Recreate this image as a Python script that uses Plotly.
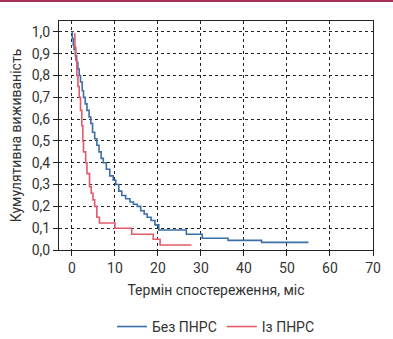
import plotly.graph_objects as go

# Без ПНРС (blue) — Kaplan–Meier step points (time, survival)
blue_t = [0.0, 0.1, 0.3, 0.5, 0.8, 1.1, 1.4, 1.7, 2.0, 2.4, 2.7, 3.1, 3.5, 4.0, 4.4, 4.8,
          5.3, 5.8, 6.3, 6.8, 7.3, 8.0, 8.8, 9.6, 10.2, 10.9, 11.6, 12.5, 13.5, 14.3, 15.2,
          16.0, 16.8, 17.5, 18.4, 19.3, 20.2, 26.6, 30.3, 36.3, 44.1, 55.0]
blue_s = [1.0, 0.97, 0.94, 0.92, 0.89, 0.86, 0.83, 0.80, 0.77, 0.73, 0.70, 0.67, 0.64, 0.61, 0.58, 0.54,
          0.51, 0.48, 0.45, 0.42, 0.40, 0.37, 0.34, 0.32, 0.30, 0.27, 0.25, 0.235, 0.22, 0.21, 0.20,
          0.18, 0.165, 0.15, 0.135, 0.115, 0.092, 0.072, 0.054, 0.044, 0.035, 0.035]

# Із ПНРС (red)
red_t = [0.5, 0.7, 0.9, 1.15, 1.4, 1.7, 2.0, 2.3, 2.55, 2.7, 3.2, 3.5, 4.1, 4.5, 4.9,
         5.3, 5.8, 6.4, 10.0, 13.9, 18.9, 20.5, 27.8]
red_s = [0.99, 0.93, 0.87, 0.80, 0.75, 0.70, 0.64, 0.57, 0.50, 0.45, 0.40, 0.35, 0.29, 0.26, 0.23,
         0.20, 0.15, 0.124, 0.10, 0.072, 0.049, 0.023, 0.023]

x_ticks = [0, 10, 20, 30, 40, 50, 60, 70]
y_ticks = [0.0, 0.1, 0.2, 0.3, 0.4, 0.5, 0.6, 0.7, 0.8, 0.9, 1.0]
y_tick_text = [f"{v:.1f}".replace(".", ",") for v in y_ticks]

font = "Roboto, 'Noto Sans', sans-serif"
txt = "#333333"

fig = go.Figure()
fig.add_trace(go.Scatter(x=blue_t, y=blue_s, mode="lines", line_shape="hv",
                         line=dict(color="#3c6fa6", width=1.6), name="Без ПНРС"))
fig.add_trace(go.Scatter(x=red_t, y=red_s, mode="lines", line_shape="hv",
                         line=dict(color="#e35a6b", width=1.6), name="Із ПНРС"))

axis_common = dict(showline=True, linecolor="#222222", linewidth=1, mirror=True,
                   showgrid=True, gridcolor="#222222", gridwidth=1, griddash="3px,3px",
                   ticks="outside", ticklen=5, tickcolor="#222222", zeroline=False,
                   automargin=False,
                   tickfont=dict(family=font, size=14, color=txt))

fig.update_xaxes(range=[-3, 70], tickvals=x_ticks,
                 title=dict(text="Термін спостереження, міс", font=dict(family=font, size=14, color=txt), standoff=10),
                 **axis_common)
fig.update_yaxes(range=[0, 1.05], tickvals=y_ticks, ticktext=y_tick_text,
                 title=dict(text="Кумулятивна виживаність", font=dict(family=font, size=14, color=txt), standoff=6),
                 **axis_common)

fig.add_shape(type="rect", xref="paper", yref="paper", x0=-0.2, x1=1.1,
              y0=1 + 19 / 229, y1=1 + 21 / 229, fillcolor="#a8325e", line=dict(width=0), layer="above")

fig.update_layout(
    width=393, height=339,
    margin=dict(l=59, r=20, t=21, b=89, autoexpand=False),
    plot_bgcolor="white", paper_bgcolor="white",
    font=dict(family=font, size=14, color=txt),
    legend=dict(orientation="h", x=0.5, xanchor="center", y=-0.336, yanchor="middle",
                font=dict(family=font, size=14, color=txt), itemwidth=30, tracegroupgap=0),
    showlegend=True,
)

fig.write_html("out.html", config={"displayModeBar": False},
               post_script="document.body.style.margin='0';document.body.style.overflow='hidden';")
